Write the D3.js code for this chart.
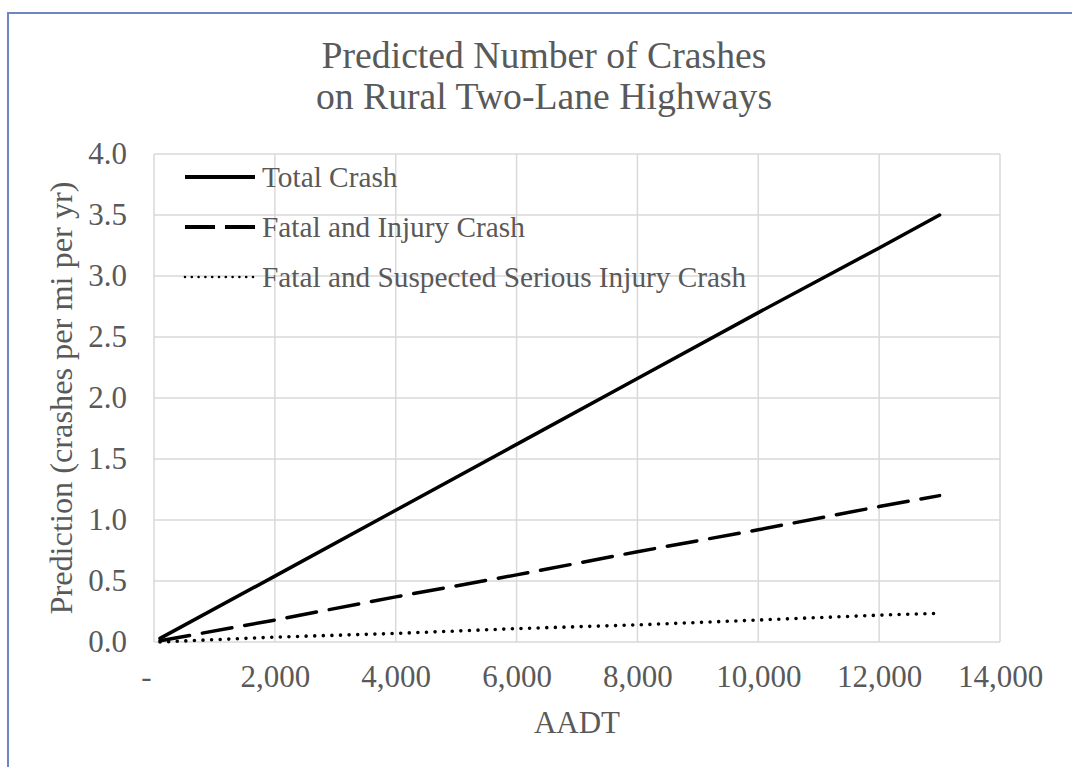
<!DOCTYPE html>
<html>
<head>
<meta charset="utf-8">
<script src="https://cdn.jsdelivr.net/npm/d3@7"></script>
<style>
  body { margin: 0; background: #fff; }
  text { font-family: "Liberation Serif", "Times New Roman", serif; fill: #595959; }
</style>
</head>
<body>
<div id="chart"></div>
<script>
// data
let aadt = [100, 2000, 4000, 6000, 8000, 10000, 12000, 13000]
let totalCrash = [0.03, 0.54, 1.08, 1.62, 2.16, 2.70, 3.23, 3.50]
let fatalInjury = [0.01, 0.18, 0.37, 0.55, 0.74, 0.92, 1.11, 1.20]
let fatalSerious = [0.0, 0.04, 0.07, 0.11, 0.14, 0.18, 0.22, 0.235]
let seriesNames = ['Total Crash', 'Fatal and Injury Crash', 'Fatal and Suspected Serious Injury Crash']
let xTicks = [0, 2000, 4000, 6000, 8000, 10000, 12000, 14000]
let yTicks = [0, 0.5, 1, 1.5, 2, 2.5, 3, 3.5, 4]

let width = 1072
let height = 767
let plot = { left: 154, right: 1000, top: 154, bottom: 642 }

let svg = d3.select('#chart')
  .append('svg')
  .attr('width', width)
  .attr('height', height)

// outer frame (right and bottom run off the picture)
svg.append('rect')
  .attr('x', 8)
  .attr('y', 13)
  .attr('width', width)
  .attr('height', height)
  .attr('fill', '#fff')
  .attr('stroke', '#6f87c0')
  .attr('stroke-width', 2)

let x = d3.scaleLinear().domain([0, 14000]).range([plot.left, plot.right])
let y = d3.scaleLinear().domain([0, 4]).range([plot.bottom, plot.top])

// grid
let grid = svg.append('g').attr('stroke', '#d9d9d9').attr('stroke-width', 1.5)
grid.selectAll('line.v')
  .data(xTicks)
  .enter()
  .append('line')
  .attr('x1', d => x(d))
  .attr('x2', d => x(d))
  .attr('y1', plot.top)
  .attr('y2', plot.bottom)
grid.selectAll('line.h')
  .data(yTicks)
  .enter()
  .append('line')
  .attr('x1', plot.left)
  .attr('x2', plot.right)
  .attr('y1', d => y(d))
  .attr('y2', d => y(d))

// axes (labels only, Excel style)
let xAxis = svg.append('g')
  .attr('transform', 'translate(0,' + plot.bottom + ')')
  .call(d3.axisBottom(x).tickValues(xTicks).tickSize(0).tickPadding(35)
    .tickFormat(d => d === 0 ? '-' : d3.format(',')(d)))
xAxis.select('.domain').remove()
xAxis.selectAll('text')
  .style('font-size', '31px')
  .attr('fill', '#595959')
  .attr('dy', '0.32em')
  .attr('dx', d => d === 0 ? -8 : 0)

let yAxis = svg.append('g')
  .attr('transform', 'translate(' + plot.left + ',0)')
  .call(d3.axisLeft(y).tickValues(yTicks).tickSize(0).tickPadding(27)
    .tickFormat(d3.format('.1f')))
yAxis.select('.domain').remove()
yAxis.selectAll('text')
  .style('font-size', '31px')
  .attr('fill', '#595959')

// series
let series = [
  { name: seriesNames[0], values: totalCrash, dash: null, w: 3.5 },
  { name: seriesNames[1], values: fatalInjury, dash: '30,13', w: 3.5 },
  { name: seriesNames[2], values: fatalSerious, dash: '0,8.6', w: 3.6 }
]

let line = d3.line()
  .x(d => x(d[0]))
  .y(d => y(d[1]))

svg.append('g')
  .selectAll('path')
  .data(series)
  .enter()
  .append('path')
  .attr('d', s => line(aadt.map((a, i) => [a, s.values[i]])))
  .attr('fill', 'none')
  .attr('stroke', '#000')
  .attr('stroke-width', s => s.w)
  .attr('stroke-linecap', 'round')
  .attr('stroke-dasharray', s => s.dash)

// legend
let legend = svg.append('g')
  .selectAll('g')
  .data(series)
  .enter()
  .append('g')
  .attr('transform', (d, i) => 'translate(185,' + (177 + i * 50) + ')')

legend.append('line')
  .attr('x1', 0)
  .attr('x2', 70)
  .attr('stroke', '#000')
  .attr('stroke-width', (d, i) => i === 2 ? 2.6 : 3.8)
  .attr('stroke-linecap', (d, i) => i === 2 ? 'round' : 'butt')
  .attr('stroke-dasharray', (d, i) => [null, '30,10', '0,6.8'][i])

legend.append('text')
  .attr('x', 77)
  .attr('dy', '0.35em')
  .style('font-size', '29.3px')
  .text(d => d.name)

// titles
let title = svg.append('text')
  .attr('text-anchor', 'middle')
  .style('font-size', '37.7px')
title.append('tspan').attr('x', 544).attr('y', 68).text('Predicted Number of Crashes')
title.append('tspan').attr('x', 544).attr('y', 109).text('on Rural Two-Lane Highways')

svg.append('text')
  .attr('x', (plot.left + plot.right) / 2)
  .attr('y', 733)
  .attr('text-anchor', 'middle')
  .style('font-size', '31px')
  .text('AADT')

svg.append('text')
  .attr('transform', 'translate(72,' + (plot.top + plot.bottom) / 2 + ')rotate(-90)')
  .attr('text-anchor', 'middle')
  .style('font-size', '32.3px')
  .text('Prediction (crashes per mi per yr)')
</script>
</body>
</html>
